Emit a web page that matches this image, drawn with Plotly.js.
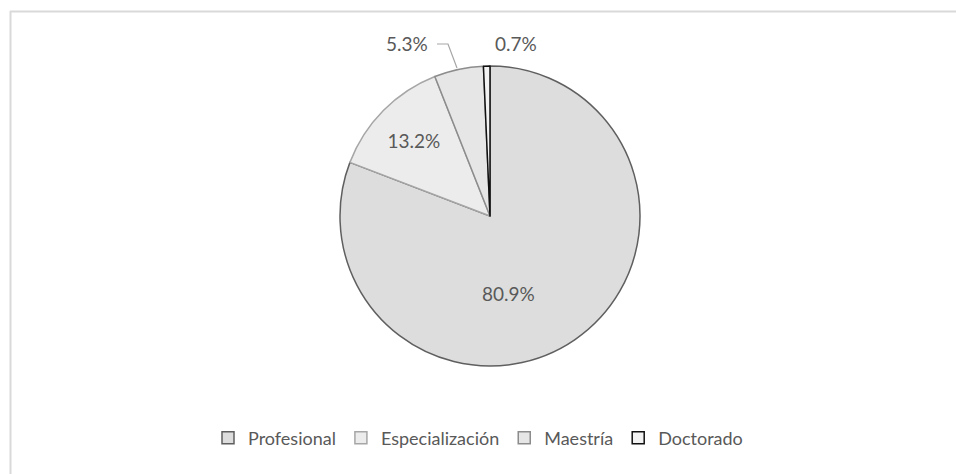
<!DOCTYPE html>
<html>
<head>
<meta charset="utf-8">
<script src="https://cdn.plot.ly/plotly-3.0.1.min.js"></script>
<style>
html,body{margin:0;padding:0;background:#fff;}
#chart{width:956px;height:474px;}
</style>
</head>
<body>
<div id="chart"></div>
<script>
const categories = ["Profesional", "Especialización", "Maestría", "Doctorado"];
const values = [80.9, 13.2, 5.3, 0.7];
const labelsText = values.map(v => v.toFixed(1) + "%");

const fills = ["#dddddd", "#ececec", "#e6e6e6", "#f2f2f2"];
const edges = ["#5f5f5f", "#a6a6a6", "#8c8c8c", "#111111"];

const W = 956, H = 474;
const cx = 490, cy = 216, R = 150;
const FONT = "Lato, 'Open Sans', sans-serif";

const trace = {
  type: "pie",
  labels: categories,
  values: values,
  sort: false,
  direction: "clockwise",
  rotation: 0,
  marker: {colors: fills, line: {color: edges, width: [1.5, 1.5, 1.5, 1.5]}},
  text: labelsText,
  textinfo: "text",
  textposition: ["none", "inside", "none", "none"],
  insidetextorientation: "horizontal",
  textfont: {family: FONT, size: 19, color: "#595959"},
  hoverinfo: "none",
  automargin: false,
  domain: {x: [(cx - R) / W, (cx + R) / W], y: [(H - cy - R) / H, (H - cy + R) / H]}
};

const ann = [
  {text: labelsText[0], x: 508 / W, y: 1 - 293 / H},
  {text: labelsText[2], x: 407 / W, y: 1 - 43 / H},
  {text: labelsText[3], x: 516 / W, y: 1 - 43 / H}
].map(a => Object.assign(a, {
  xref: "paper", yref: "paper", showarrow: false,
  xanchor: "center", yanchor: "middle",
  font: {family: FONT, size: 19, color: "#595959"}
}));

const layout = {
  width: W, height: H,
  margin: {l: 0, r: 0, t: 0, b: 0},
  paper_bgcolor: "#ffffff",
  showlegend: true,
  legend: {
    orientation: "h", x: 0.5, xanchor: "center", y: 1 - 438 / H, yanchor: "middle",
    font: {family: FONT, size: 18, color: "#595959"},
    itemwidth: 30, traceorder: "normal"
  },
  annotations: ann,
  shapes: [
    {type: "line", xref: "paper", yref: "paper", x0: 10 / W, x1: 1, y0: 1 - 11.5 / H, y1: 1 - 11.5 / H, line: {color: "#d9d9d9", width: 2}},
    {type: "line", xref: "paper", yref: "paper", x0: 10.5 / W, x1: 10.5 / W, y0: 0, y1: 1 - 11 / H, line: {color: "#d9d9d9", width: 2}},
    {type: "path", xref: "paper", yref: "paper",
     path: "M " + (437 / W) + "," + (1 - 44 / H) + " L " + (448 / W) + "," + (1 - 44 / H) + " L " + (457 / W) + "," + (1 - 68 / H),
     line: {color: "#a6a6a6", width: 1.2}}
  ]
};

Plotly.newPlot("chart", [trace], layout, {displayModeBar: false, staticPlot: true});
</script>
</body>
</html>
